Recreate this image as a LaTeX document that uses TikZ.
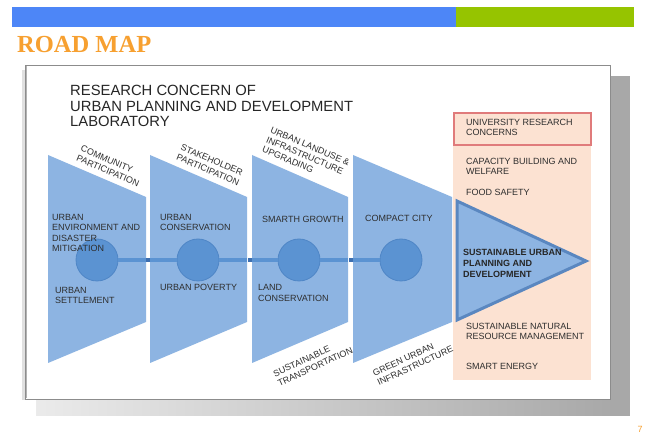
\documentclass[tikz,border=0pt]{standalone}
\usepackage{fontspec}
\setmainfont{Liberation Sans}
\newfontfamily\hand{Liberation Sans}
\newfontfamily\serifbold{Liberation Serif}
\definecolor{barblue}{HTML}{4D86F7}
\definecolor{bargreen}{HTML}{96C400}
\definecolor{headorange}{HTML}{F7A030}
\definecolor{trap}{HTML}{8DB4E2}
\definecolor{circ}{HTML}{5B93D2}
\definecolor{circedge}{HTML}{4F86C6}
\definecolor{pinkbg}{HTML}{FCE2D2}
\definecolor{redb}{HTML}{E07B7B}
\definecolor{txt}{HTML}{2E2E2E}
\definecolor{triborder}{HTML}{5A87C0}
\definecolor{sq}{HTML}{3D6FB0}
\tikzset{
  lab/.style={font=\hand\fontsize{9}{10.5}\selectfont, text=txt, align=left, inner sep=0pt, anchor=north west},
  rlab/.style={font=\hand\fontsize{9}{10.5}\selectfont, text=txt, align=left, inner sep=0pt, anchor=center},
  trapez/.style={fill=trap, draw=none},
  hub/.style={circle, minimum size=42pt, inner sep=0pt, fill=circ, draw=circedge, line width=0.8pt},
  gapsq/.style={rectangle, minimum size=4pt, inner sep=0pt, fill=sq},
  conn/.style={draw=circ, line width=4pt}
}
\begin{document}
\begin{tikzpicture}[x=1pt,y=-1pt]
\useasboundingbox (0,0) rectangle (646,435);
\fill[white] (0,0) rectangle (646,435);
% top bars
\fill[barblue] (12,7) rectangle (456,27);
\fill[bargreen] (456,7) rectangle (634,27);
% heading
\node[font=\serifbold\bfseries\fontsize{24.5}{26}\selectfont, text=headorange, anchor=base west, inner sep=0pt] (head) at (17,53) {ROAD MAP};
% card shadow
\shade[left color=black!8, right color=black!34] (36,399) rectangle (612,416);
\fill[black!34] (610,76) rectangle (630,416);
\fill[black!12] (22,70) rectangle (25,400);
% card
\fill[white] (25,65) rectangle (610,399);
\draw[black!45, line width=0.8pt] (25,65) rectangle (610,399);
\draw[black!30, line width=1.5pt] (26.5,66) -- (26.5,398);
% pink column
\fill[pinkbg] (453,112) rectangle (591,380);
\draw[redb, line width=1.6pt] (454,113) rectangle (591,145);
% title
\node[font=\hand\fontsize{14.8}{15.5}\selectfont, text=black!85, align=left, inner sep=0pt, anchor=north west] (title) at (70,85)
 {RESEARCH CONCERN OF\\URBAN PLANNING AND DEVELOPMENT\\LABORATORY};
% trapezoids
\foreach \x/\w in {48/98,150/97,252/96,353/99}{
  \fill[trapez] (\x,155) -- (\x+\w,197) -- (\x+\w,322) -- (\x,363) -- cycle;
}
% circles and connectors
\node[hub] (c1) at (97,260) {};
\node[hub] (c2) at (198,260) {};
\node[hub] (c3) at (299,260) {};
\node[hub] (c4) at (401,260) {};
\node[gapsq] (s1) at (148,260) {};
\node[gapsq] (s2) at (249.5,260) {};
\node[gapsq] (s3) at (350.5,260) {};
\draw[conn] (c1) -- (s1) -- (c2);
\draw[conn] (c2) -- (s2) -- (c3);
\draw[conn] (c3) -- (s3) -- (c4);
\node[gapsq] at (148,260) {};
\node[gapsq] at (249.5,260) {};
\node[gapsq] at (350.5,260) {};
% big triangle
\filldraw[fill=trap, draw=triborder, line width=3pt, line join=miter] (457,201) -- (586,261) -- (457,320) -- cycle;
% rotated labels on top
\node[rlab, rotate=-23] (cp) at (110,166) {COMMUNITY\\PARTICIPATION};
\node[rlab, rotate=-23] (sp) at (210,165) {STAKEHOLDER\\PARTICIPATION};
\node[rlab, rotate=-23] (ul) at (306,156) {URBAN LANDUSE \&\\INFRASTRUCTURE\\UPGRADING};
% rotated labels on bottom
\node[rlab, rotate=25] (st) at (313,362) {SUSTAINABLE\\TRANSPORTATION};
\node[rlab, rotate=25] (gu) at (413,361) {GREEN URBAN\\INFRASTRUCTURE};
% inner labels
\node[lab] (ue) at (52,213.7) {URBAN\\ENVIRONMENT AND\\DISASTER\\MITIGATION};
\node[lab] (us) at (55,286.7) {URBAN\\SETTLEMENT};
\node[lab] (uc) at (160,213.7) {URBAN\\CONSERVATION};
\node[lab] (up) at (160,284.2) {URBAN POVERTY};
\node[lab] (sg) at (262,215.7) {SMARTH GROWTH};
\node[lab] (lc) at (258,284.2) {LAND\\CONSERVATION};
\node[lab] (cc) at (365,215.2) {COMPACT CITY};
% triangle label
\node[font=\hand\bfseries\fontsize{9}{10.8}\selectfont, text=black!85, align=left, inner sep=0pt, anchor=north west] (sud) at (463,249.5)
 {SUSTAINABLE URBAN\\PLANNING AND\\DEVELOPMENT};
% pink column labels
\node[lab] (urc) at (466,118.7) {UNIVERSITY RESEARCH\\CONCERNS};
\node[lab] (cb) at (466,157.7) {CAPACITY BUILDING AND\\WELFARE};
\node[lab] (fs) at (466,188.7) {FOOD SAFETY};
\node[lab] (snr) at (466,322.7) {SUSTAINABLE NATURAL\\RESOURCE MANAGEMENT};
\node[lab] (se) at (466,362.7) {SMART ENERGY};
% page number
\node[font=\fontsize{9}{10}\selectfont, text=headorange, inner sep=0pt, anchor=base] (pg) at (640,433) {7};
\end{tikzpicture}
\end{document}
